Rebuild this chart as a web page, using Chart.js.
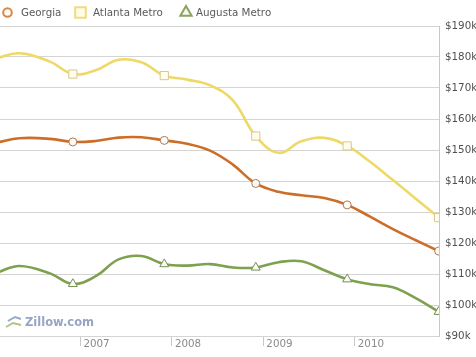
<!DOCTYPE html>
<html><head><meta charset="utf-8">
<script src="https://cdn.jsdelivr.net/npm/chart.js@4"></script>
<style>html,body{margin:0;padding:0;background:#fff;overflow:hidden}#wrap{width:476px;height:357px;position:relative}</style>
</head><body><div id="wrap"><canvas id="c" width="476" height="357"></canvas></div>
<script>
// months counted from Jan 2006 = 0
const months = [1,4,8,11,14,17,20,23,26,29,32,35,38,41,44,47,50,53,56,59];
const georgia = [152.4,153.8,153.6,152.6,152.9,154.0,154.1,153.1,152.0,149.8,145.3,139.2,136.5,135.4,134.5,132.3,128.5,124.5,120.9,117.4];
const atlanta = [179.6,181.2,178.5,174.5,175.7,179.1,178.3,174.0,172.7,170.9,166.0,154.5,149.1,152.8,153.9,151.3,146.2,140.3,134.3,128.2];
const augusta = [110.4,112.6,110.2,106.8,109.3,114.7,115.8,113.2,112.7,113.2,112.1,112.1,113.8,114.1,111.2,108.3,106.7,105.7,102.2,97.8];
const markerMonths = [11,23,35,47,59];
const yearTicks = [12,24,36,48];
const yearLabels = {12:'2007',24:'2008',36:'2009',48:'2010'};
const seriesNames = ['Georgia','Atlanta Metro','Augusta Metro'];

const FONT = 'DejaVu Sans';
const toXY = arr => arr.map((v,i)=>({x:months[i], y:v}));
const markerRadius = r => ctx => markerMonths.includes(ctx.raw && ctx.raw.x) ? r : 0;

const legendPlugin = {
  id:'customLegend',
  afterDraw(chart){
    const ctx = chart.ctx;
    const items = [
      {x:7.5, tx:21, ds:0, fill:'#fffaf2', stroke:'#d5884a', style:'circle', r:4.3},
      {x:80.5, tx:93, ds:1, fill:'#fffbe6', stroke:'#f0dc80', style:'rect', r:7.5},
      {x:186, tx:196, ds:2, fill:'#f6f8ee', stroke:'#8aa262', style:'triangle', r:6.5}
    ];
    ctx.save();
    items.forEach(it=>{
      ctx.fillStyle = it.fill; ctx.strokeStyle = it.stroke; ctx.lineWidth = 2;
      Chart.helpers.drawPoint(ctx,{pointStyle:it.style,radius:it.r,rotation:0,borderWidth:2},it.x,12.5);
      ctx.fillStyle = '#5a5a5a';
      ctx.font = '10.3px ' + FONT;
      ctx.textBaseline = 'middle';
      ctx.textAlign = 'left';
      ctx.fillText(chart.data.datasets[it.ds].label, it.tx, 13);
    });
    // Zillow watermark
    ctx.fillStyle = '#97a5c4';
    ctx.font = 'bold 11.5px ' + FONT;
    ctx.fillText('Zillow.com', 25, 323.5);
    ctx.strokeStyle = '#95abcb'; ctx.lineWidth = 2;
    ctx.beginPath(); ctx.moveTo(8,321); ctx.lineTo(15,317); ctx.lineTo(21,319); ctx.stroke();
    ctx.strokeStyle = '#b0c488';
    ctx.beginPath(); ctx.moveTo(6,327); ctx.lineTo(13,323); ctx.lineTo(21,325); ctx.stroke();
    ctx.restore();
  }
};

new Chart(document.getElementById('c'), {
  type:'line',
  data:{datasets:[
    {label:seriesNames[0], data:toXY(georgia), borderColor:'#cc6e28', borderWidth:2.6, tension:0.4,
     pointStyle:'circle', pointRadius:markerRadius(4), pointBackgroundColor:'#fffaf4', pointBorderColor:'#a97a5a', pointBorderWidth:1},
    {label:seriesNames[1], data:toXY(atlanta), borderColor:'#eed966', borderWidth:2.6, tension:0.4,
     pointStyle:'rect', pointRadius:markerRadius(5.8), pointBackgroundColor:'#fffdf0', pointBorderColor:'#d9c888', pointBorderWidth:1},
    {label:seriesNames[2], data:toXY(augusta), borderColor:'#7da14e', borderWidth:2.6, tension:0.4,
     pointStyle:'triangle', pointRadius:markerRadius(5.2), pointBackgroundColor:'#fbfcf6', pointBorderColor:'#7a8e5a', pointBorderWidth:1}
  ]},
  options:{
    responsive:false, animation:false, devicePixelRatio:1,
    layout:{autoPadding:false, padding:{top:26,left:0,right:0,bottom:0}},
    plugins:{legend:{display:false}, tooltip:{enabled:false}},
    scales:{
      x:{type:'linear', min:1.44, max:59.05,
        afterBuildTicks: s => { s.ticks = yearTicks.map(v=>({value:v})); },
        afterFit: s => { s.height = 21; s.paddingLeft = 0; s.paddingRight = 0; },
        grid:{drawOnChartArea:false, drawTicks:true, tickLength:10, color:'#c8c8c8'},
        border:{display:false},
        ticks:{align:'start', labelOffset:3, padding:-8, color:'#8a8a8a', font:{family:FONT,size:10.3},
          callback: v => yearLabels[v] || ''}
      },
      y:{position:'right', min:90, max:190,
        afterBuildTicks: s => { s.ticks = []; for(let v=90; v<=190; v+=10) s.ticks.push({value:v}); },
        afterFit: s => { s.width = 37; s.paddingTop = 0; s.paddingBottom = 0; },
        grid:{drawTicks:false, color:'#d4d4d4'},
        border:{display:true, color:'#c8c8c8'},
        ticks:{padding:6, color:'#505050', font:{family:FONT,size:10.3}, callback: v => '$' + v + 'k'}
      }
    }
  },
  plugins:[legendPlugin]
});
</script></body></html>
